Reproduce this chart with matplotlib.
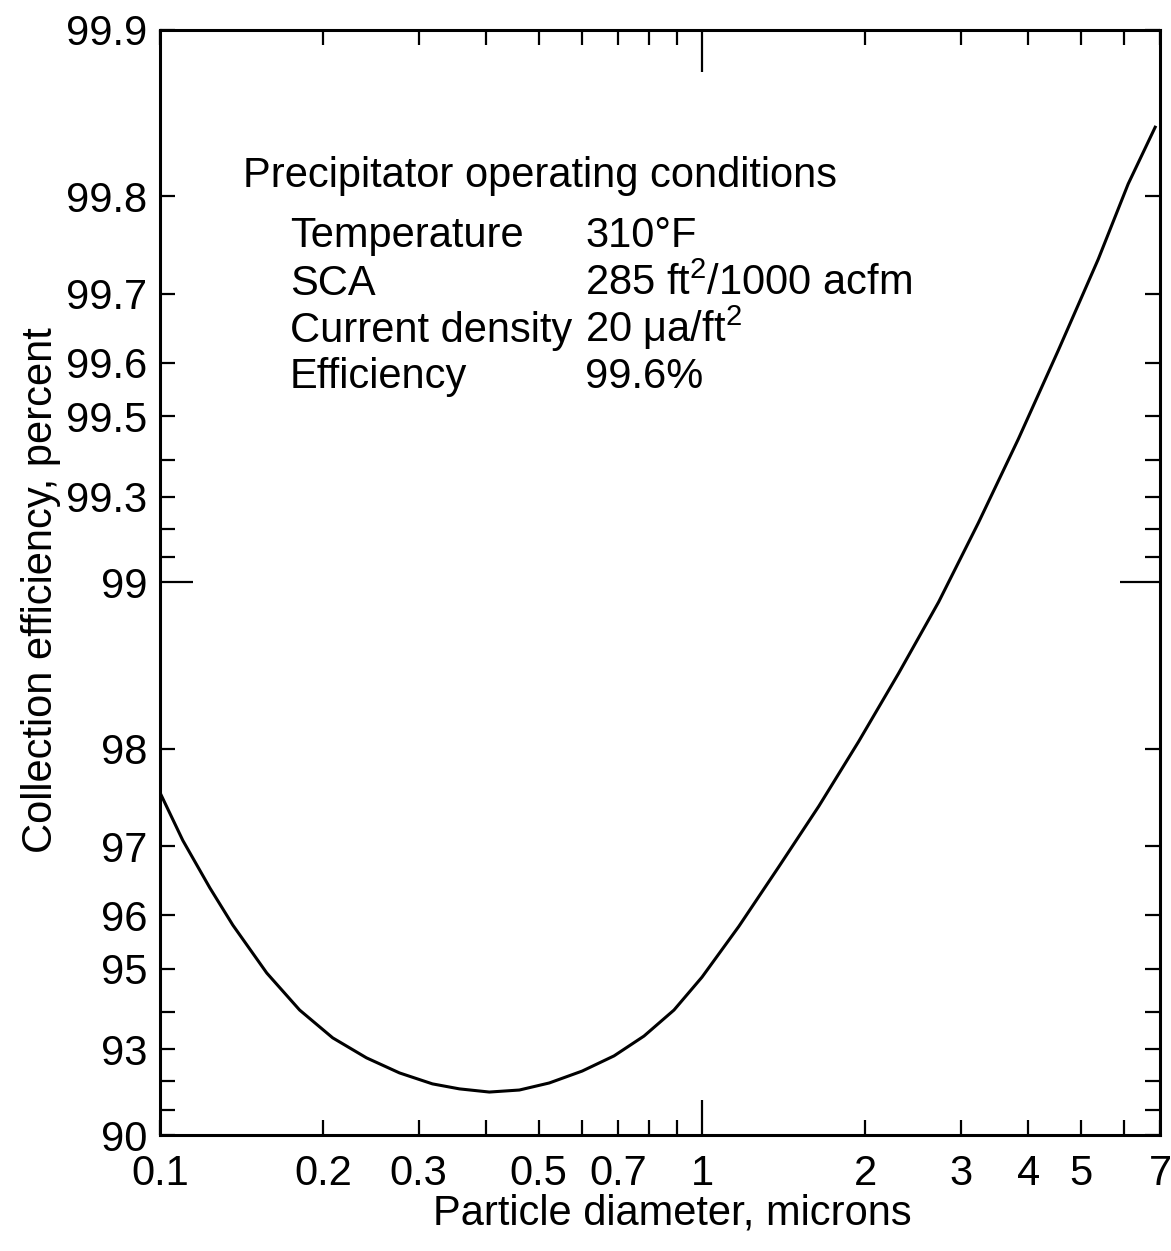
import numpy as np
import matplotlib.pyplot as plt

# curve (particle diameter in microns, efficiency in percent)
diameter = [0.1, 0.1102, 0.1236, 0.1363, 0.1574, 0.181, 0.2083, 0.2405, 0.2767,
            0.3182, 0.3568, 0.4052, 0.4603, 0.5227, 0.6012, 0.6884, 0.7818, 0.888,
            1.0, 1.17, 1.386, 1.643, 1.946, 2.306, 2.733, 3.236, 3.835, 4.545,
            5.385, 6.115, 6.858]
efficiency = [97.60, 97.07, 96.43, 95.83, 94.91, 94.06, 93.33, 92.75, 92.28,
              91.92, 91.75, 91.64, 91.71, 91.95, 92.34, 92.81, 93.38, 94.06,
              94.82, 95.81, 96.73, 97.46, 98.06, 98.54, 98.915, 99.22, 99.45, 99.62,
              99.74, 99.81, 99.85]

# axis ticks
y_labeled = [90, 93, 95, 96, 97, 98, 99, 99.3, 99.5, 99.6, 99.7, 99.8, 99.9]
y_minor = [91, 92, 94, 99.1, 99.2, 99.4]
x_labeled = [0.1, 0.2, 0.3, 0.5, 0.7, 1, 2, 3, 4, 5, 7]
x_minor = [0.4, 0.6, 0.8, 0.9, 6]

conditions = ["Temperature", "SCA", "Current density", "Efficiency"]
condition_values = ["310°F", "285 ft$^2$/1000 acfm", "20 μa/ft$^2$", "99.6%"]

plt.rcParams['font.family'] = ['Liberation Sans', 'DejaVu Sans']
plt.rcParams['mathtext.fontset'] = 'custom'
plt.rcParams['mathtext.rm'] = 'Liberation Sans'
plt.rcParams['mathtext.it'] = 'Liberation Sans:italic'
plt.rcParams['mathtext.default'] = 'rm'

FS = 30


# efficiency axis: log of penetration (100 - efficiency)
def fwd(y):
    y = np.asarray(y, dtype=float)
    return -np.log10(np.clip(100.0 - y, 1e-6, None))


def inv(t):
    return 100.0 - 10.0 ** (-np.asarray(t, dtype=float))


fig = plt.figure(figsize=(11.71, 12.51), dpi=100)
ax = fig.add_axes([0.1366, 0.0927, 0.854, 0.8834])

ax.plot(diameter, efficiency, color='black', lw=2.2)

ax.set_xscale('log')
ax.set_yscale('function', functions=(fwd, inv))
ax.set_xlim(0.1, 7)
ax.set_ylim(90, 99.9)

ax.set_yticks(y_labeled)
ax.set_yticklabels([str(v) for v in y_labeled])
ax.set_yticks(y_minor, minor=True)
ax.set_xticks(x_labeled)
ax.set_xticklabels([str(v) for v in x_labeled])
ax.set_xticks(x_minor, minor=True)
ax.xaxis.set_minor_formatter(plt.NullFormatter())
ax.yaxis.set_minor_formatter(plt.NullFormatter())

ax.tick_params(which='both', direction='in', top=True, right=True,
               width=1.6, length=11, labelsize=FS, colors='black')
ax.tick_params(axis='y', pad=9)
ax.tick_params(axis='x', pad=14)

# long ticks at 99 and at 1 micron
for i, v in enumerate(y_labeled):
    if v == 99:
        t = ax.yaxis.get_major_ticks()[i]
        t.tick1line.set_markersize(24)
        t.tick2line.set_markersize(29)
for i, v in enumerate(x_labeled):
    if v == 1:
        t = ax.xaxis.get_major_ticks()[i]
        t.tick1line.set_markersize(25)
        t.tick2line.set_markersize(30)

for s in ax.spines.values():
    s.set_linewidth(2.2)

ax.set_xlabel('Particle diameter, microns', fontsize=FS)
ax.set_ylabel('Collection efficiency, percent', fontsize=FS)
ax.xaxis.set_label_coords(0.512, -0.053)
ax.yaxis.set_label_coords(-0.099, 0.493)

ax.text(0.083, 0.858, 'Precipitator operating conditions', transform=ax.transAxes,
        fontsize=FS, va='baseline', ha='left')
rows_y = [0.804, 0.760, 0.718, 0.676]
for name, val, yy in zip(conditions, condition_values, rows_y):
    ax.text(0.13, yy, name, transform=ax.transAxes, fontsize=FS, va='baseline')
    ax.text(0.425, yy, val, transform=ax.transAxes, fontsize=FS, va='baseline')

fig.savefig('out.png', dpi=100)
